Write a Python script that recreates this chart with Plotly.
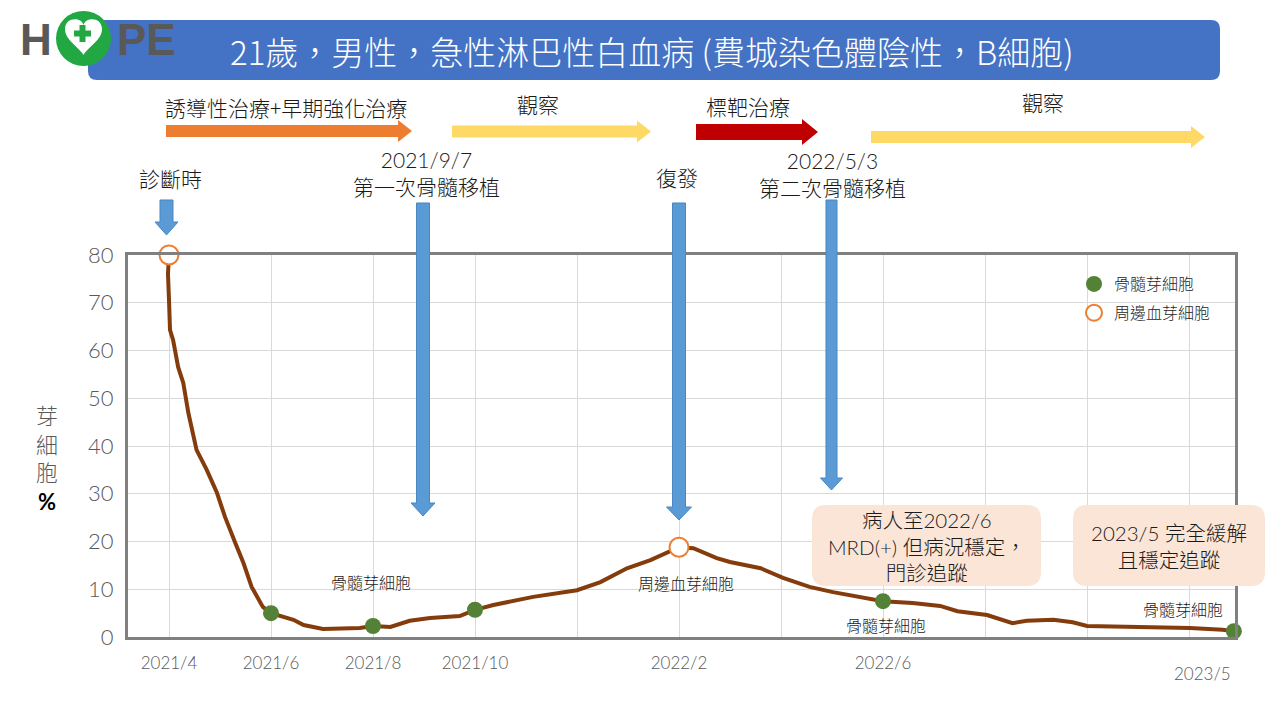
import plotly.graph_objects as go

# ---------------- data ----------------
# x positions are slots on the chart's time grid (one grid column per slot)
line_x = [0.0, -0.01, 0.0, 0.01, 0.04, 0.09, 0.14, 0.19, 0.27, 0.37, 0.47, 0.55, 0.65, 0.73, 0.81, 0.92, 1.0,
          1.16, 1.22, 1.32, 1.51, 1.87, 2.0, 2.17, 2.36, 2.56, 2.85, 3.0, 3.18, 3.57, 4.0, 4.23, 4.49, 4.72, 4.93, 5.0,
          5.14, 5.37, 5.5, 5.8, 6.02, 6.28, 6.51, 6.77, 7.0, 7.29, 7.56, 7.73, 8.02, 8.27, 8.41, 8.67, 8.86, 9.0,
          9.59, 10.01, 10.33, 10.44]
line_y = [80.0, 76.0, 70.6, 64.3, 62.2, 56.5, 53.2, 46.9, 39.2, 35.0, 30.2, 25.1, 19.7, 15.5, 10.5, 6.3, 5.0,
          4.0, 3.6, 2.5, 1.7, 1.9, 2.3, 2.1, 3.4, 4.0, 4.4, 5.7, 6.7, 8.4, 9.8, 11.5, 14.4, 16.1, 18.2, 18.8,
          18.6, 16.5, 15.7, 14.4, 12.4, 10.5, 9.4, 8.4, 7.5, 7.1, 6.5, 5.4, 4.6, 2.9, 3.4, 3.6, 3.1, 2.3,
          2.1, 1.9, 1.5, 1.2]

bm_x = [1, 2, 3, 7, 10.44]          # 骨髓芽細胞
bm_y = [5.0, 2.3, 5.7, 7.5, 1.2]
pb_x = [0, 5]                       # 周邊血芽細胞
pb_y = [80.0, 18.8]

x_tickvals = list(range(11))
x_ticktext = ["2021/4", "2021/6", "2021/8", "2021/10", "", "2022/2", "", "2022/6", "", "", ""]
last_label = "2023/5"
y_tickvals = [0, 10, 20, 30, 40, 50, 60, 70, 80]

title_text = "21歲，男性，急性淋巴性白血病 (費城染色體陰性，B細胞)"

# ---------------- helpers (page pixel -> paper) ----------------
OFF = 8                      # page body margin
W, H = 1280 - 2 * OFF, 720 - 2 * OFF
L, R, T, B = 128, 1235, 255, 637   # plot area in page pixels


def X(px):
    return (px - L) / (R - L)


def Y(py):
    return (B - py) / (B - T)


def pt(px, py):
    return f"{X(px):.5f},{Y(py):.5f}"


def poly(points):
    return "M " + " L ".join(pt(a, b) for a, b in points) + " Z"


def rrect(x0, y0, x1, y1, r):
    return (f"M {pt(x0 + r, y0)} L {pt(x1 - r, y0)} Q {pt(x1, y0)} {pt(x1, y0 + r)} "
            f"L {pt(x1, y1 - r)} Q {pt(x1, y1)} {pt(x1 - r, y1)} "
            f"L {pt(x0 + r, y1)} Q {pt(x0, y1)} {pt(x0, y1 - r)} "
            f"L {pt(x0, y0 + r)} Q {pt(x0, y0)} {pt(x0 + r, y0)} Z")


def down_arrow(cx, y0, y1, w, hw, hl):
    return poly([(cx - w, y0), (cx + w, y0), (cx + w, y1 - hl), (cx + hw, y1 - hl), (cx, y1),
                 (cx - hw, y1 - hl), (cx - w, y1 - hl)])


def right_arrow(x0, x1, cy, w, hw, hl):
    return poly([(x0, cy - w), (x1 - hl, cy - w), (x1 - hl, cy - hw), (x1, cy), (x1 - hl, cy + hw),
                 (x1 - hl, cy + w), (x0, cy + w)])


CJK = "Noto Sans CJK TC, Noto Sans CJK SC, sans-serif"
MIX = "Lato, Noto Sans CJK TC, sans-serif"
NUM = "Lato, Noto Sans, sans-serif"

fig = go.Figure()
fig.add_trace(go.Scatter(x=line_x, y=line_y, mode="lines",
                         line=dict(color="#843c0c", width=4),
                         showlegend=False, hoverinfo="skip", cliponaxis=False))
fig.add_trace(go.Scatter(x=bm_x, y=bm_y, mode="markers", name="骨髓芽細胞",
                         marker=dict(size=16, color="#538135"),
                         cliponaxis=False, legendgroup="a"))
fig.add_trace(go.Scatter(x=pb_x, y=pb_y, mode="markers", name="周邊血芽細胞",
                         marker=dict(size=19, color="white", line=dict(color="#ed7d31", width=2)),
                         cliponaxis=False, legendgroup="b"))

shapes = []
# title banner
shapes.append(dict(type="path", path=rrect(88, 20, 1220, 80, 9), fillcolor="#4472c4",
                   line=dict(width=0), xref="paper", yref="paper", layer="above"))
# logo circle + heart + cross
shapes.append(dict(type="circle", x0=X(56), x1=X(111), y0=Y(66), y1=Y(11), fillcolor="#22a843",
                   line=dict(width=0), xref="paper", yref="paper", layer="above"))
heart = (f"M {pt(83.5, 26)} C {pt(83.5, 17)} {pt(65, 16)} {pt(65, 29)} "
         f"C {pt(65, 40)} {pt(78, 46)} {pt(83.5, 55)} "
         f"C {pt(89, 46)} {pt(102, 40)} {pt(102, 29)} "
         f"C {pt(102, 16)} {pt(83.5, 17)} {pt(83.5, 26)} Z")
shapes.append(dict(type="path", path=heart, fillcolor="white", line=dict(width=0),
                   xref="paper", yref="paper", layer="above"))
shapes.append(dict(type="rect", x0=X(74), x1=X(91), y0=Y(36.5), y1=Y(30.5), fillcolor="#22a843",
                   line=dict(width=0), xref="paper", yref="paper", layer="above"))
shapes.append(dict(type="rect", x0=X(79.5), x1=X(85.5), y0=Y(42), y1=Y(25), fillcolor="#22a843",
                   line=dict(width=0), xref="paper", yref="paper", layer="above"))

# phase arrows
for x0, x1, cy, w, hw, hl, col in [
    (166, 412, 131, 6, 11, 14, "#ed7d31"),
    (452, 651, 131.5, 6, 11, 14, "#ffd966"),
    (696, 818, 132, 8, 13, 16, "#c00000"),
    (871, 1205, 137, 6, 11, 14, "#ffd966"),
]:
    shapes.append(dict(type="path", path=right_arrow(x0, x1, cy, w, hw, hl), fillcolor=col,
                       line=dict(width=0), xref="paper", yref="paper", layer="above"))

# blue down arrows
for cx, y0, y1, w, hw, hl in [
    (166.5, 200, 235, 6.5, 11.5, 13),
    (423, 203, 516, 6.5, 12, 13),
    (679, 203, 520, 6.5, 12.5, 13),
    (831.5, 200, 490, 5.5, 11, 12),
]:
    shapes.append(dict(type="path", path=down_arrow(cx, y0, y1, w, hw, hl), fillcolor="#5b9bd5",
                       line=dict(width=1, color="#4a87c2"), xref="paper", yref="paper", layer="above"))

# callout boxes
for x0, y0, x1, y1 in [(812, 505, 1041, 586), (1073, 505, 1265, 586)]:
    shapes.append(dict(type="path", path=rrect(x0, y0, x1, y1, 14), fillcolor="#fbe5d6",
                       line=dict(width=0), xref="paper", yref="paper", layer="above"))

ann = []


def add_text(px, py, text, size, color="#1a1a1a", family=CJK, weight=300):
    ann.append(dict(x=X(px), y=Y(py), xref="paper", yref="paper", text=text, showarrow=False,
                    xanchor="center", yanchor="middle",
                    font=dict(size=size, color=color, family=family, weight=weight)))


# logo letters
add_text(36, 40, "<b>H</b>", 44, "#595959", "Liberation Sans, Arial, sans-serif", 700)
add_text(146, 40, "<b>PE</b>", 44, "#595959", "Liberation Sans, Arial, sans-serif", 700)
# title
add_text(652, 51, title_text, 33, "white")
# phase labels
add_text(286, 107, "誘導性治療+早期強化治療", 21)
add_text(538, 104, "觀察", 21)
add_text(748, 106, "標靶治療", 21)
add_text(1043, 102, "觀察", 21)
# event labels
add_text(170, 178, "診斷時", 21)
add_text(426.5, 173, "2021/9/7<br>第一次骨髓移植", 21, family=MIX)
add_text(677, 177, "復發", 21)
add_text(832, 173.5, "2022/5/3<br>第二次骨髓移植", 21, family=MIX)
# callout texts
add_text(927, 546, "病人至2022/6<br>MRD(+) 但病況穩定，<br>門診追蹤", 20.5, family=MIX)
add_text(1169, 546, "2023/5 完全緩解<br>且穩定追蹤", 20.5, family=MIX)
# point labels
add_text(371, 582, "骨髓芽細胞", 16)
add_text(686, 583, "周邊血芽細胞", 16)
add_text(886, 625, "骨髓芽細胞", 16)
add_text(1183, 609, "骨髓芽細胞", 16)
# y axis title
add_text(47, 458, "芽<br>細<br>胞<br><b><span style='color:#000000'>%</span></b>", 22, "#595959",
         family=MIX)
# last x label
add_text(1202, 673, last_label, 17, "#595959", NUM)

fig.update_layout(
    width=W, height=H,
    margin=dict(l=L - OFF, r=W - (R - OFF), t=T - OFF, b=H - (B - OFF), pad=0),
    paper_bgcolor="white", plot_bgcolor="white",
    shapes=shapes, annotations=ann,
    showlegend=True,
    legend=dict(x=X(1074), y=Y(267), xanchor="left", yanchor="top", bgcolor="rgba(0,0,0,0)",
                font=dict(size=16, color="#262626", family=CJK, weight=300), tracegroupgap=5,
                itemwidth=30),
    xaxis=dict(range=[(L - 169) / 102, (R - 169) / 102], tickmode="array", tickvals=x_tickvals,
               ticktext=x_ticktext, showgrid=True, gridcolor="#d9d9d9", gridwidth=1.3,
               showline=True, mirror=True, linecolor="#808080", linewidth=3, zeroline=False,
               ticks="", ticklabelstandoff=9,
               tickfont=dict(size=17, color="#595959", family=NUM, weight=300)),
    yaxis=dict(range=[0, 80], tickmode="array", tickvals=y_tickvals, showgrid=True,
               gridcolor="#d9d9d9", gridwidth=1.3, showline=True, mirror=True,
               linecolor="#808080", linewidth=3, zeroline=False, ticks="", ticklabelstandoff=7,
               tickfont=dict(size=22, color="#595959", family=NUM, weight=300)),
    hovermode=False,
)

fig.write_html("out.html")
